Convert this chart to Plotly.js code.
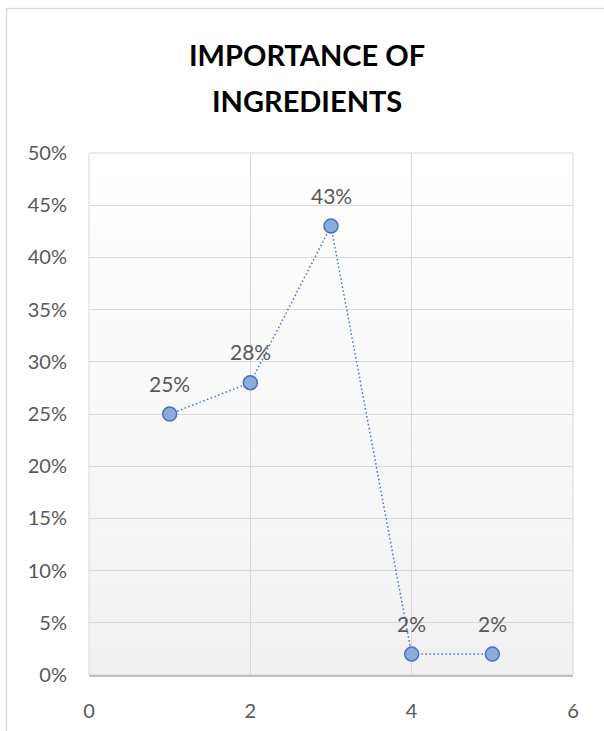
<!DOCTYPE html>
<html>
<head>
<meta charset="utf-8">
<script src="https://cdn.plot.ly/plotly-3.0.1.min.js"></script>
<style>html,body{margin:0;padding:0;background:#fff;}#chart{width:604px;height:731px;}</style>
</head>
<body>
<div id="chart"></div>
<script>
const xValues = [1, 2, 3, 4, 5];
const yValues = [0.25, 0.28, 0.43, 0.02, 0.02];
const dataLabels = ['25%', '28%', '43%', '2%', '2%'];
const titleLines = ['IMPORTANCE OF', 'INGREDIENTS'];

const L = 89, R = 31, T = 153, B = 56, W = 604, H = 731;
const pw = W - L - R, ph = H - T - B;
const px = v => (v - L) / pw;
const py = v => (H - B - v) / ph;

const shapes = [];
// gradient background for plot area
const bands = 40;
for (let i = 0; i < bands; i++) {
  const t = i / (bands - 1);
  const c = Math.round(255 - t * 14);
  shapes.push({type: 'rect', xref: 'paper', yref: 'paper', layer: 'below',
    x0: 0, x1: 1, y0: 1 - (i + 1) / bands, y1: 1 - i / bands,
    line: {width: 0}, fillcolor: `rgb(${c},${c},${c})`});
}
// outer chart border
shapes.push({type: 'rect', xref: 'paper', yref: 'paper', layer: 'above',
  x0: px(6.5), x1: px(612), y0: py(740), y1: py(8.5),
  line: {color: '#d9d9d9', width: 1.5}, fillcolor: 'rgba(0,0,0,0)'});
// plot area border
shapes.push({type: 'rect', xref: 'paper', yref: 'paper', layer: 'below',
  x0: 0, x1: 1, y0: 0, y1: 1, line: {color: '#d9d9d9', width: 1}, fillcolor: 'rgba(0,0,0,0)'});

const labelFont = {family: 'Lato, "Open Sans", sans-serif', size: 21, color: '#595959'};
const annotations = xValues.map((x, i) => ({
  x: x, y: yValues[i], xref: 'x', yref: 'y', text: dataLabels[i],
  showarrow: false, yshift: 31, font: labelFont
}));
const titleY = [55, 100];
titleLines.forEach((line, i) => annotations.push({
  xref: 'paper', yref: 'paper', x: px(307), y: py(titleY[i]), xanchor: 'center', yanchor: 'middle',
  showarrow: false, text: '<b>' + line + '</b>',
  font: {family: 'Lato, "Open Sans", sans-serif', size: 29, color: '#000000'}
}));

const trace = {
  x: xValues, y: yValues, type: 'scatter', mode: 'lines+markers',
  line: {color: '#4472c4', width: 1.5, dash: '1.5px,2.5px'},
  marker: {size: 14, color: '#8eaadb', line: {color: '#4472c4', width: 1.5}},
  hoverinfo: 'none'
};

const tickFont = {family: 'Lato, "Open Sans", sans-serif', size: 20, color: '#595959'};

const layout = {
  width: W, height: H,
  margin: {l: L, r: R, t: T, b: B, pad: 0},
  paper_bgcolor: '#ffffff', plot_bgcolor: 'rgba(0,0,0,0)',
  showlegend: false,
  xaxis: {range: [0, 6], dtick: 2, tick0: 0, showgrid: true, gridcolor: '#d9d9d9', gridwidth: 1,
    zeroline: false, showline: true, linecolor: '#bfbfbf', linewidth: 1.5, ticks: '',
    ticklabelstandoff: 17, tickfont: tickFont, fixedrange: true},
  yaxis: {range: [0, 0.5], dtick: 0.05, tick0: 0, tickformat: '.0%', showgrid: true, gridcolor: '#d9d9d9',
    gridwidth: 1, zeroline: false, showline: false, ticks: '', ticklabelstandoff: 21,
    tickfont: tickFont, fixedrange: true},
  shapes: shapes,
  annotations: annotations
};

Plotly.newPlot('chart', [trace], layout, {displayModeBar: false, staticPlot: true});
</script>
</body>
</html>
